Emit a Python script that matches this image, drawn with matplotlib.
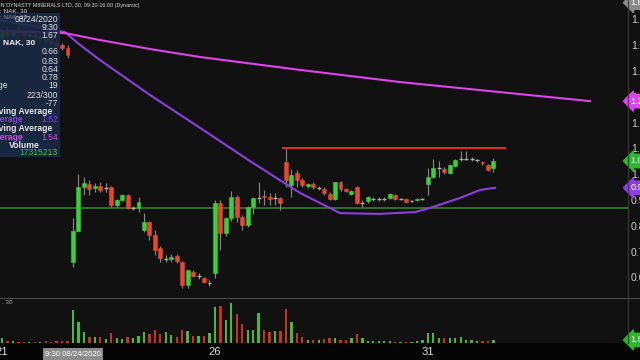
import matplotlib
matplotlib.use('Agg')
import matplotlib.pyplot as plt
from matplotlib.patches import Rectangle
from matplotlib.lines import Line2D
import numpy as np

plt.rcParams['font.family'] = ['Liberation Sans', 'DejaVu Sans']

# NAK 30-minute bars, 13 per session: Aug 21, 24, 25, 26, 27, 28, 31
opens = [1.53, 1.55, 1.54, 1.56, 1.55, 1.54, 1.54, 1.53, 1.53, 1.52, 1.51, 1.50, 1.49,
         0.66, 0.78, 0.95, 0.96, 0.946, 0.954, 0.946, 0.95, 0.88, 0.90, 0.919, 0.869, 0.869,
         0.783, 0.814, 0.764, 0.714, 0.671, 0.671, 0.683, 0.659, 0.57, 0.621, 0.605, 0.597, 0.578,
         0.617, 0.888, 0.772, 0.83, 0.911, 0.834, 0.803, 0.873, 0.908, 0.915, 0.911, 0.908, 0.908,
         1.047, 0.958, 1.004, 0.977, 0.954, 0.962, 0.946, 0.942, 0.923, 0.904, 0.97, 0.942, 0.923,
         0.95, 0.888, 0.896, 0.904, 0.904, 0.904, 0.908, 0.919, 0.904, 0.904, 0.896, 0.90, 0.904,
         0.962, 0.989, 1.024, 1.02, 1.004, 1.032, 1.059, 1.059, 1.059, 1.053, 1.047, 1.035, 1.024]
highs = [1.56, 1.57, 1.56, 1.57, 1.56, 1.55, 1.55, 1.54, 1.54, 1.53, 1.52, 1.51, 1.50,
         0.83, 1.00, 0.99, 0.977, 0.966, 0.97, 0.966, 0.955, 0.905, 0.925, 0.925, 0.875, 0.911,
         0.849, 0.82, 0.783, 0.72, 0.687, 0.69, 0.69, 0.665, 0.63, 0.628, 0.615, 0.601, 0.59,
         0.90, 0.90, 0.834, 0.935, 0.92, 0.84, 0.875, 0.911, 0.97, 0.939, 0.927, 0.927, 0.911,
         1.105, 1.02, 1.016, 0.985, 0.966, 0.97, 0.954, 0.95, 0.93, 0.97, 0.974, 0.946, 0.939,
         0.954, 0.90, 0.915, 0.911, 0.911, 0.911, 0.927, 0.923, 0.908, 0.908, 0.90, 0.908, 0.908,
         1.024, 1.059, 1.051, 1.028, 1.04, 1.059, 1.09, 1.09, 1.066, 1.059, 1.051, 1.04, 1.063]
lows = [1.52, 1.53, 1.53, 1.54, 1.53, 1.53, 1.52, 1.52, 1.51, 1.50, 1.49, 1.48, 1.45,
        0.64, 0.776, 0.92, 0.92, 0.93, 0.93, 0.931, 0.873, 0.873, 0.895, 0.865, 0.862, 0.853,
        0.775, 0.745, 0.687, 0.659, 0.659, 0.659, 0.655, 0.56, 0.559, 0.60, 0.595, 0.578, 0.566,
        0.597, 0.706, 0.76, 0.82, 0.814, 0.783, 0.795, 0.846, 0.888, 0.88, 0.88, 0.88, 0.861,
        0.95, 0.911, 0.95, 0.95, 0.946, 0.942, 0.939, 0.92, 0.90, 0.90, 0.935, 0.931, 0.919,
        0.884, 0.873, 0.888, 0.896, 0.896, 0.896, 0.904, 0.90, 0.90, 0.888, 0.892, 0.896, 0.90,
        0.919, 0.985, 0.989, 1.0, 1.0, 1.028, 1.051, 1.055, 1.051, 1.047, 1.035, 1.012, 1.008]
closes = [1.55, 1.54, 1.56, 1.55, 1.54, 1.54, 1.53, 1.53, 1.52, 1.51, 1.50, 1.49, 1.46,
          0.78, 0.95, 0.966, 0.942, 0.954, 0.939, 0.946, 0.88, 0.90, 0.919, 0.869, 0.869, 0.892,
          0.814, 0.764, 0.706, 0.675, 0.671, 0.679, 0.663, 0.57, 0.628, 0.605, 0.605, 0.582, 0.578,
          0.888, 0.772, 0.83, 0.911, 0.834, 0.803, 0.873, 0.908, 0.908, 0.911, 0.904, 0.908, 0.888,
          0.977, 0.997, 0.977, 0.958, 0.962, 0.95, 0.946, 0.927, 0.904, 0.97, 0.942, 0.935, 0.935,
          0.888, 0.888, 0.911, 0.904, 0.904, 0.904, 0.923, 0.904, 0.904, 0.892, 0.896, 0.904, 0.904,
          0.989, 1.024, 1.024, 1.008, 1.035, 1.055, 1.059, 1.059, 1.059, 1.053, 1.043, 1.016, 1.051]
volumes = [2.6, 1.0, 1.0, 0.5, 0.5, 0.5, 0.5, 0.5, 0.8, 0.5, 1.0, 1.0, 1.0,
           17.3, 11.0, 5.8, 3.2, 3.2, 3.2, 2.1, 5.3, 2.6, 2.1, 3.2, 2.6, 3.7,
           5.8, 4.7, 6.8, 4.7, 5.8, 4.2, 3.2, 6.8, 6.3, 3.7, 3.7, 3.7, 5.3,
           18.9, 19.4, 12.1, 21.0, 15.2, 10.0, 6.8, 6.8, 15.8, 6.8, 5.8, 6.3, 6.3,
           17.9, 11.0, 5.3, 3.2, 1.8, 1.6, 1.8, 2.1, 2.6, 2.6, 1.8, 1.8, 2.4,
           4.5, 2.6, 1.0, 1.0, 1.0, 0.8, 1.3, 0.5, 0.5, 0.5, 0.5, 0.8, 1.6,
           5.3, 5.3, 2.4, 2.4, 2.4, 2.6, 3.2, 1.8, 1.6, 1.0, 1.0, 1.0, 1.6]  # millions

day_labels = ['21', '26', '31']
day_label_bars = [0, 39, 78]
cursor_bar = 13

# moving averages (bar index, price)
ma1_bars = [-0.4, 11.5, 14.3, 17.9, 27.1, 36.3, 45.4, 54.6, 61.9, 69.2, 75.6, 78.4, 83.9, 87.6, 90.3]
ma1_vals = [1.597, 1.551, 1.501, 1.443, 1.307, 1.179, 1.051, 0.927, 0.849, 0.846, 0.853, 0.869, 0.908, 0.939, 0.947]
ma2_bars = [-0.4, 11.5, 17.9, 27.1, 36.3, 54.6, 72.9, 91.2, 107.7]
ma2_vals = [1.555, 1.547, 1.52, 1.485, 1.454, 1.404, 1.357, 1.318, 1.283]

resistance = 1.10
resistance_bars = [51.5, 92.1]
support = 0.87
price_ticks = [0.6, 0.7, 0.8, 0.9, 1.0, 1.1, 1.2, 1.3, 1.4, 1.5, 1.6]

GREEN = '#3ccf3c'
RED = '#e8472f'
GRAY = '#b0b0b0'
BG = '#111111'

W, H = 640, 360


def fx(x):
    return x / W


def fy(y):
    return 1 - y / H


fig = plt.figure(figsize=(6.4, 3.6), dpi=100, facecolor=BG)
ax = fig.add_axes([0, fy(298), fx(628), 298 / H])
axv = fig.add_axes([0, fy(343), fx(628), 45 / H], sharex=ax)
for a in (ax, axv):
    a.set_facecolor(BG)
    for s in a.spines.values():
        s.set_visible(False)

o = np.array(opens)
h = np.array(highs)
l = np.array(lows)
c = np.array(closes)
idx = np.arange(len(o))
up = c - o > 0.003
down = o - c > 0.003
doji = ~(up | down)
colors = np.where(up, GREEN, np.where(down, RED, GRAY))

# wicks
ax.vlines(idx, l, h, color='#8a8a8a', lw=0.8, zorder=2)
# bodies
bw = 0.72
ax.bar(idx[~doji], np.abs(c - o)[~doji], bottom=np.minimum(o, c)[~doji], width=bw,
       color=colors[~doji], edgecolor=colors[~doji], lw=0.4, zorder=3)
ax.hlines(c[doji], idx[doji] - bw / 2, idx[doji] + bw / 2, color=GRAY, lw=1.0, zorder=3)

# moving averages and levels
ax.axhline(support, color='#2f6e25', lw=1.4, zorder=1)
ax.plot(resistance_bars, [resistance, resistance], color='#e0302a', lw=1.4, zorder=4)
ax.plot(ma1_bars, ma1_vals, color='#8c3fe0', lw=1.5, zorder=4)
ax.plot(ma2_bars, ma2_vals, color='#dd45ea', lw=1.5, zorder=4)

ax.set_xlim(-0.366, 114.65)
ax.set_ylim(0.52, 1.675)
ax.yaxis.tick_right()
ax.set_yticks(price_ticks)
ax.set_yticklabels([f'{t:.2f}' for t in price_ticks])
ax.tick_params(axis='y', length=0, pad=2, labelsize=7.5, colors='#d0d0d0')
ax.tick_params(axis='x', bottom=False, labelbottom=False)

# right side value markers
def marker(a, val, fc, tc='white'):
    a.annotate(f'{val:.2f}', xy=(1.0, val), xycoords=a.get_yaxis_transform(),
               xytext=(2, 0), textcoords='offset points', va='center', ha='left',
               fontsize=6.5, color=tc, annotation_clip=False,
               bbox=dict(boxstyle='larrow,pad=0.25', fc=fc, ec=fc), zorder=10)

marker(ax, ma2_vals[-1], '#dd45ea')
marker(ax, closes[-1], '#2fb52f')
marker(ax, ma1_vals[-1], '#8c3fe0')
marker(ax, 1.665, '#8a8a8a')

# volume
vcol = np.where(c >= o, '#4cb83a', '#c9321f')
axv.bar(idx, volumes, width=0.42, color=vcol, zorder=2)
axv.set_ylim(0, 23.6)
axv.set_yticks([])
axv.set_xticks(day_label_bars)
axv.set_xticklabels(day_labels)
axv.tick_params(axis='x', length=0, pad=3, labelsize=8, colors='#dddddd')
axv.annotate('9:30 08/24/2020', xy=(cursor_bar, 0), xycoords=('data', 'axes fraction'),
             xytext=(0, -8), textcoords='offset points', ha='center', va='center',
             fontsize=5.6, color='white', annotation_clip=False,
             bbox=dict(boxstyle='square,pad=0.3', fc='#8c8c8c', ec='none'))
vmark = volumes[-1]
axv.annotate(f'{vmark:.1f}M', xy=(1.0, vmark), xycoords=axv.get_yaxis_transform(),
             xytext=(2, 0), textcoords='offset points', va='center', ha='left',
             fontsize=6.5, color='white', annotation_clip=False,
             bbox=dict(boxstyle='larrow,pad=0.25', fc='#2fb52f', ec='#2fb52f'))
fig.text(fx(2), fy(303), '. 30', fontsize=4.5, color='#aaaaaa', va='center')

# frame lines and bottom strip
fig.add_artist(Rectangle((0, 0), 1, fy(343), transform=fig.transFigure,
                         fc='#050505', ec='none', zorder=-1))
fig.add_artist(Line2D([0, 1], [fy(298), fy(298)], transform=fig.transFigure,
                      color='#4a4a4a', lw=0.8))
fig.add_artist(Line2D([fx(628), fx(628)], [fy(343), 1], transform=fig.transFigure,
                      color='#3a3a3a', lw=0.8))

# header text
fig.text(fx(140), fy(5), 'NORTHERN DYNASTY MINERALS LTD, 30, 09:30-16:00 (Dynamic)',
         ha='right', va='center', fontsize=3.9, color='#d8d8d8')
fig.text(fx(0), fy(11), ': NAK, 30', ha='left', va='center', fontsize=4.6, color='#d8d8d8')

# data window panel
fig.add_artist(Rectangle((0, fy(157)), fx(60), (157 - 13) / H, transform=fig.transFigure,
                         fc='#1a2a44', ec='none', alpha=0.9, zorder=5))
fig.text(fx(0), fy(17), ': NAK, 30', ha='left', va='center', fontsize=4.6, color='#7f8aa0', zorder=6)
rows = [(19, '08/24/2020', '#e0e0e0'), (27, '9:30', '#e0e0e0'), (35, '1.67', '#e0e0e0'),
        (52, '0.66', '#e0e0e0'), (61, '0.83', '#e0e0e0'), (69, '0.64', '#e0e0e0'),
        (78, '0.78', '#e0e0e0'), (86, '19', '#e0e0e0'), (95, '223/300', '#e0e0e0'),
        (103, '-77', '#e0e0e0'), (120, '1.52', '#8c3fe0'), (137, '1.54', '#dd45ea'),
        (152, '17315213', '#4cc23a')]
for y, t, col in rows:
    fig.text(fx(58), fy(y), t, ha='right', va='center', fontsize=6.2, color=col, zorder=6)
labels = [(86, 'Range', '#e0e0e0', 'normal', -18), (111, 'Moving Average', '#e8e8e8', 'bold', -14),
          (120, 'Average', '#8c3fe0', 'bold', -10), (128, 'Moving Average', '#e8e8e8', 'bold', -14),
          (137, 'Average', '#dd45ea', 'bold', -10), (145, 'Volume', '#e8e8e8', 'bold', 9)]
for y, t, col, wt, x0 in labels:
    fig.text(fx(x0), fy(y), t, ha='left', va='center', fontsize=6.2, color=col,
             fontweight=wt, zorder=6)
fig.text(fx(3), fy(43), 'NAK, 30', ha='left', va='center', fontsize=6, color='#f0f0f0',
         fontweight='bold', zorder=6)

fig.savefig('out.png', dpi=100, facecolor=BG)
